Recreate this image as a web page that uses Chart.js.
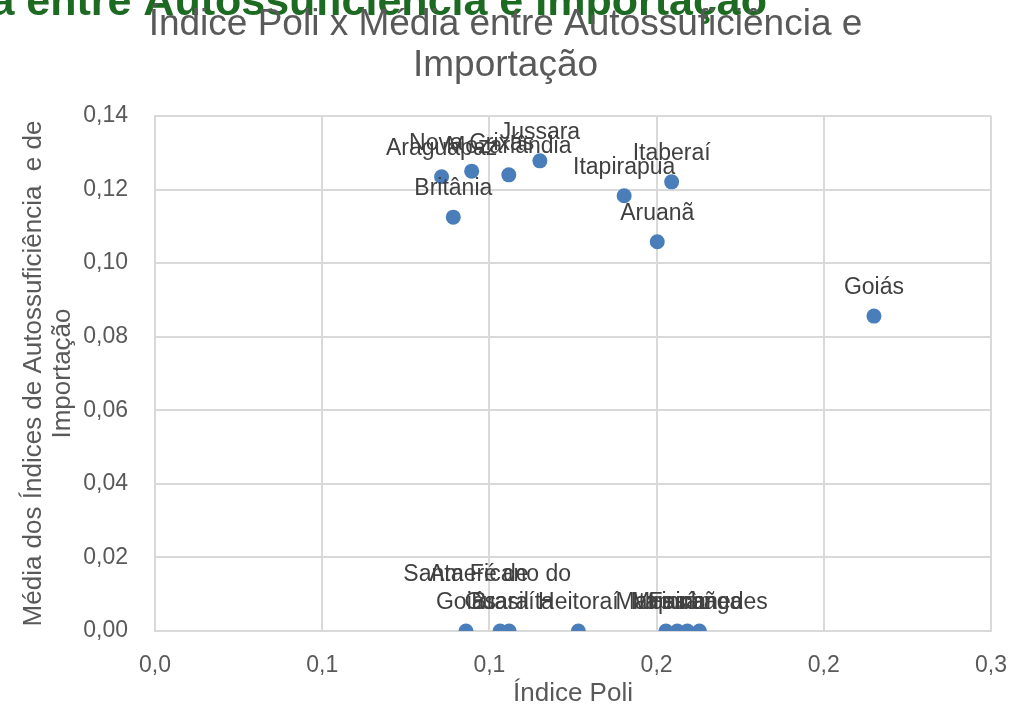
<!DOCTYPE html>
<html>
<head>
<meta charset="utf-8">
<script src="https://cdn.jsdelivr.net/npm/chart.js@4/dist/chart.umd.min.js"></script>
<style>
  html, body { margin: 0; padding: 0; background: #ffffff; }
  #wrap { position: relative; width: 1011px; height: 710px; }
</style>
</head>
<body>
<div id="wrap"><canvas id="c" width="1011" height="710"></canvas></div>
<script>
// ---- data ----
const municipios = [
  "Araguapaz", "Nova Crixás", "Mozarlândia", "Jussara", "Britânia",
  "Itapirapua", "Itaberaí", "Aruanã", "Goiás",
  "Santa Fé de Goiás", "Americano do Brasil", "Guaraíta", "Heitoraí",
  "Matrinchã", "Faina", "Itapuranga", "Mossâmedes"
];
const indicePoli = [
  0.0857, 0.0947, 0.1058, 0.1151, 0.0892,
  0.1403, 0.1545, 0.1502, 0.2150,
  0.0930, 0.1032, 0.1059, 0.1266,
  0.1528, 0.1562, 0.1592, 0.1628
];
const mediaAutoImport = [
  0.1235, 0.1250, 0.1240, 0.1278, 0.1125,
  0.1183, 0.1221, 0.1058, 0.0856,
  0, 0, 0, 0,
  0, 0, 0, 0
];
const xTickLabels = ["0,0", "0,1", "0,1", "0,2", "0,2", "0,3"];
const yTickLabels = ["0,00", "0,02", "0,04", "0,06", "0,08", "0,10", "0,12", "0,14"];
const chartTitle = ["Índice Poli x Média entre Autossuficiência e", "Importação"];
const hiddenTitle = "Média entre Autossuficiência e Importação";
const xTitle = "Índice Poli";
const yTitle = ["Média dos Índices de Autossuficiência  e de", "Importação"];

const FONT = "'Liberation Sans', Arial, sans-serif";

const points = indicePoli.map((x, i) => ({ x: x, y: mediaAutoImport[i] }));

function wrapText(ctx, text, maxW) {
  const words = text.split(' ');
  const lines = [];
  let cur = '';
  for (const w of words) {
    const test = cur ? cur + ' ' + w : w;
    if (cur && ctx.measureText(test).width > maxW) {
      lines.push(cur);
      cur = w;
    } else {
      cur = test;
    }
  }
  if (cur) lines.push(cur);
  return lines;
}

const backTitlePlugin = {
  id: 'backTitle',
  beforeDraw(chart) {
    const ctx = chart.ctx;
    ctx.save();
    ctx.font = "bold 43px " + FONT;
    ctx.fillStyle = '#1d6a22';
    ctx.textAlign = 'right';
    ctx.textBaseline = 'alphabetic';
    ctx.fillText(hiddenTitle, 767, 15);
    ctx.restore();
  }
};

const labelPlugin = {
  id: 'pointLabels',
  afterDatasetsDraw(chart) {
    const ctx = chart.ctx;
    const meta = chart.getDatasetMeta(0);
    ctx.save();
    ctx.font = "23px " + FONT;
    ctx.fillStyle = '#404040';
    ctx.textAlign = 'center';
    ctx.textBaseline = 'middle';
    meta.data.forEach((pt, i) => {
      const lines = wrapText(ctx, municipios[i], 160);
      const lh = 28;
      const bottomY = pt.y - 28;
      lines.forEach((ln, k) => {
        const y = bottomY - (lines.length - 1 - k) * lh;
        ctx.fillText(ln, pt.x, y);
      });
    });
    ctx.restore();
  }
};

new Chart(document.getElementById('c'), {
  type: 'scatter',
  data: {
    datasets: [{
      data: points,
      backgroundColor: '#4a7ebb',
      borderColor: '#4a7ebb',
      borderWidth: 0,
      pointRadius: 7.5,
      pointHoverRadius: 7.5
    }]
  },
  options: {
    responsive: false,
    animation: false,
    events: [],
    layout: { padding: { left: 0, right: 0, top: 0, bottom: 0 } },
    plugins: {
      legend: { display: false },
      tooltip: { enabled: false },
      title: {
        display: true,
        text: chartTitle,
        color: '#595959',
        font: { family: FONT, size: 37, weight: 'normal', lineHeight: 1.108 },
        padding: { top: 4, bottom: 30 }
      }
    },
    scales: {
      x: {
        type: 'linear',
        min: 0, max: 0.25,
        afterBuildTicks(scale) {
          scale.ticks = xTickLabels.map((_, i) => ({ value: i * 0.05 }));
        },
        afterFit(scale) {
          scale.height = 79;
          scale.paddingRight = 20;
          scale.paddingLeft = 0;
        },
        ticks: {
          callback: (v, i) => xTickLabels[i],
          color: '#595959',
          font: { family: FONT, size: 23 },
          padding: 21,
          maxRotation: 0,
          autoSkip: false
        },
        grid: { color: '#d9d9d9', lineWidth: 2, drawTicks: false },
        border: { color: '#d9d9d9', width: 2 },
        title: {
          display: true,
          text: xTitle,
          color: '#595959',
          font: { family: FONT, size: 26, lineHeight: 1.2 },
          padding: { top: 0, bottom: 1 }
        }
      },
      y: {
        type: 'linear',
        min: 0, max: 0.14,
        afterBuildTicks(scale) {
          scale.ticks = yTickLabels.map((_, i) => ({ value: i * 0.02 }));
        },
        afterFit(scale) { scale.width = 155; },
        ticks: {
          callback: (v, i) => yTickLabels[i],
          color: '#595959',
          font: { family: FONT, size: 23 },
          padding: 27,
          autoSkip: false
        },
        grid: { color: '#d9d9d9', lineWidth: 2, drawTicks: false },
        border: { color: '#d9d9d9', width: 2 },
        title: {
          display: true,
          text: yTitle,
          color: '#595959',
          font: { family: FONT, size: 26, lineHeight: 1.1 },
          padding: { top: 20, bottom: 0 }
        }
      }
    }
  },
  plugins: [backTitlePlugin, labelPlugin]
});
</script>
</body>
</html>
